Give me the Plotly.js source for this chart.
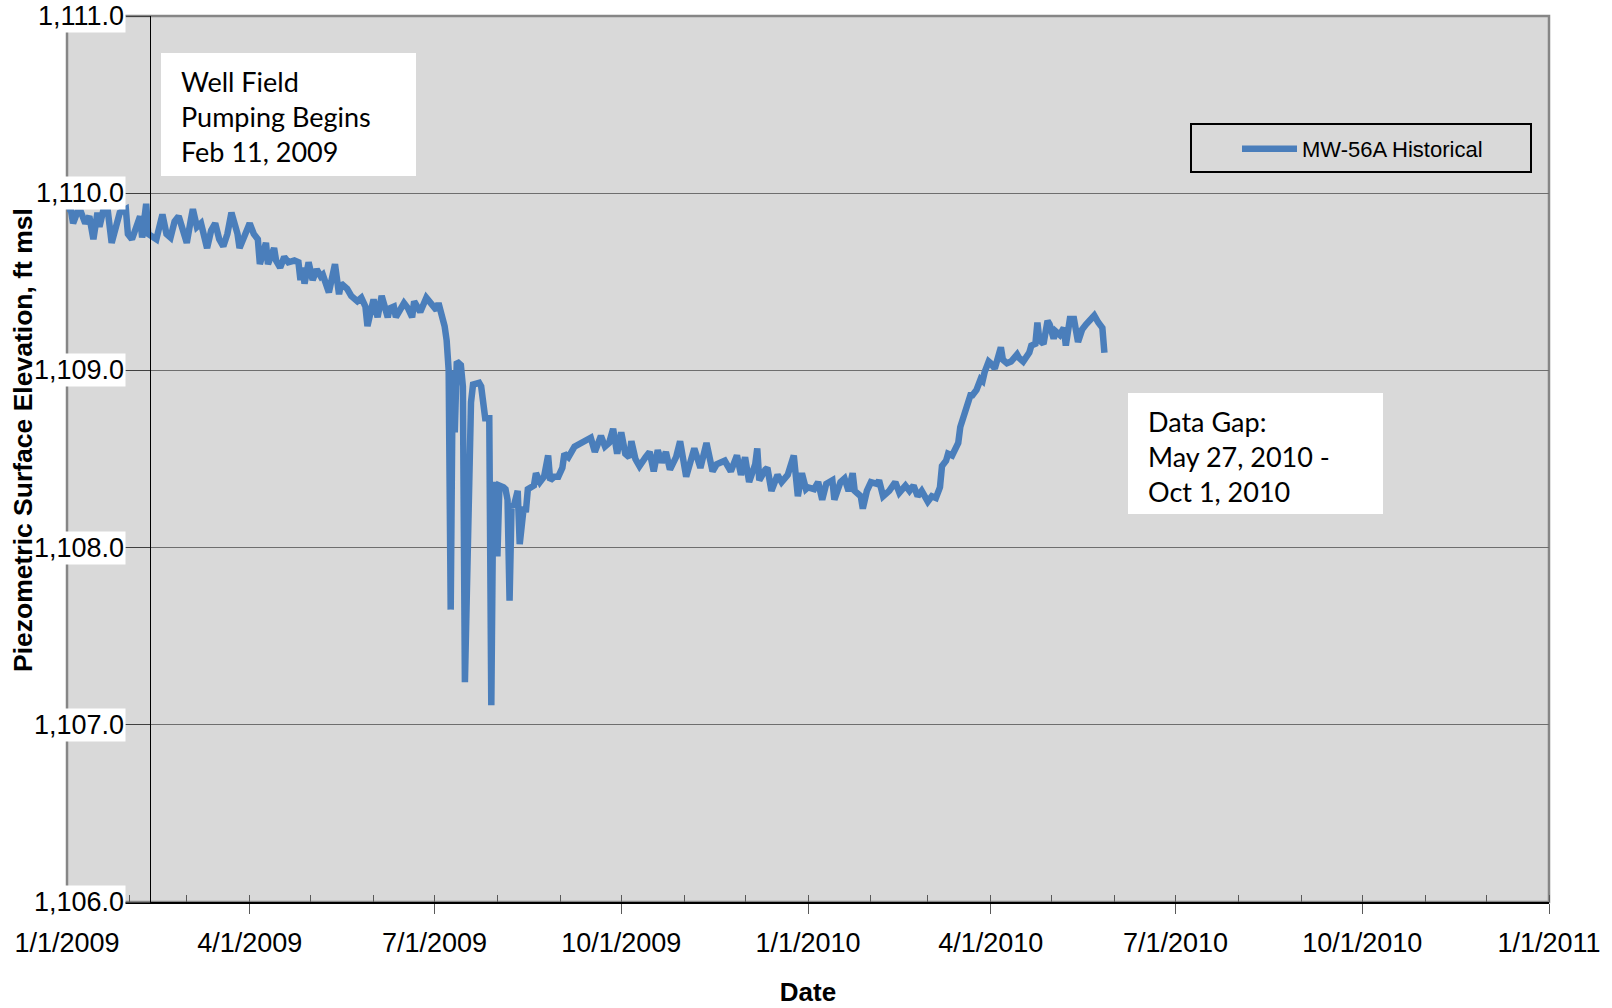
<!DOCTYPE html>
<html>
<head>
<meta charset="utf-8">
<script src="https://cdn.plot.ly/plotly-3.0.1.min.js"></script>
<style>
html,body{margin:0;padding:0;background:#ffffff;}
#chart{width:1612px;height:1008px;}
</style>
</head>
<body>
<div id="chart"></div>
<script>
// ---------------- DATA ----------------
const seriesName = 'MW-56A Historical';

// Jan - early Jul 2009 (before the summer drawdown)
const datesEarly = ['2009-01-01','2009-01-03','2009-01-04','2009-01-06','2009-01-08','2009-01-10','2009-01-12','2009-01-14','2009-01-16','2009-01-17','2009-01-19','2009-01-21','2009-01-23','2009-01-26','2009-01-27','2009-01-30','2009-01-31','2009-02-02','2009-02-04','2009-02-06','2009-02-07','2009-02-09','2009-02-10','2009-02-12','2009-02-14','2009-02-17','2009-02-19','2009-02-21','2009-02-23','2009-02-25','2009-02-27','2009-03-01','2009-03-03','2009-03-04','2009-03-06','2009-03-08','2009-03-11','2009-03-13','2009-03-15','2009-03-17','2009-03-19','2009-03-21','2009-03-23','2009-03-26','2009-03-27','2009-03-30','2009-04-01','2009-04-03','2009-04-05','2009-04-06','2009-04-09','2009-04-10','2009-04-13','2009-04-14','2009-04-16','2009-04-18','2009-04-20','2009-04-23','2009-04-25','2009-04-26','2009-04-27','2009-04-28','2009-04-30','2009-05-02','2009-05-04','2009-05-06','2009-05-07','2009-05-10','2009-05-11','2009-05-13','2009-05-15','2009-05-16','2009-05-19','2009-05-21','2009-05-24','2009-05-26','2009-05-28','2009-05-29','2009-06-01','2009-06-03','2009-06-05','2009-06-08','2009-06-09','2009-06-11','2009-06-12','2009-06-16','2009-06-18','2009-06-20','2009-06-21','2009-06-24','2009-06-27','2009-06-30','2009-07-02','2009-07-03','2009-07-05','2009-07-06','2009-07-07'];
const levelsEarly = [1109.92,1109.90,1109.83,1109.89,1109.89,1109.83,1109.87,1109.74,1109.89,1109.81,1109.91,1109.91,1109.72,1109.83,1109.89,1109.91,1109.77,1109.74,1109.81,1109.87,1109.75,1109.94,1109.77,1109.75,1109.74,1109.88,1109.77,1109.75,1109.84,1109.87,1109.79,1109.72,1109.85,1109.91,1109.81,1109.83,1109.69,1109.79,1109.83,1109.74,1109.70,1109.77,1109.89,1109.77,1109.69,1109.79,1109.83,1109.77,1109.74,1109.60,1109.72,1109.60,1109.69,1109.62,1109.58,1109.64,1109.61,1109.62,1109.61,1109.51,1109.58,1109.49,1109.61,1109.51,1109.57,1109.53,1109.54,1109.44,1109.51,1109.60,1109.43,1109.49,1109.46,1109.42,1109.39,1109.41,1109.36,1109.25,1109.40,1109.30,1109.42,1109.30,1109.35,1109.36,1109.30,1109.38,1109.35,1109.30,1109.39,1109.33,1109.41,1109.36,1109.34,1109.38,1109.30,1109.25,1109.17];

// Jul - Dec 2009 (drawdown spikes and partial recovery)
const datesMid = ['2009-07-08','2009-07-09','2009-07-10','2009-07-11','2009-07-12','2009-07-14','2009-07-15','2009-07-16','2009-07-18','2009-07-19','2009-07-20','2009-07-23','2009-07-24','2009-07-25','2009-07-26','2009-07-28','2009-07-29','2009-07-30','2009-07-31','2009-08-01','2009-08-02','2009-08-04','2009-08-05','2009-08-06','2009-08-07','2009-08-08','2009-08-09','2009-08-11','2009-08-12','2009-08-14','2009-08-15','2009-08-16','2009-08-19','2009-08-20','2009-08-22','2009-08-24','2009-08-26','2009-08-27','2009-08-29','2009-08-31','2009-09-02','2009-09-03','2009-09-05','2009-09-08','2009-09-11','2009-09-14','2009-09-16','2009-09-18','2009-09-21','2009-09-23','2009-09-25','2009-09-27','2009-09-29','2009-10-01','2009-10-03','2009-10-05','2009-10-06','2009-10-08','2009-10-10','2009-10-13','2009-10-15','2009-10-17','2009-10-19','2009-10-21','2009-10-23','2009-10-25','2009-10-28','2009-10-30','2009-11-01','2009-11-02','2009-11-06','2009-11-09','2009-11-12','2009-11-15','2009-11-17','2009-11-21','2009-11-24','2009-11-27','2009-11-29','2009-12-01','2009-12-03','2009-12-06','2009-12-07','2009-12-08','2009-12-11','2009-12-12','2009-12-14','2009-12-17','2009-12-19','2009-12-22','2009-12-25','2009-12-27','2009-12-29','2009-12-31'];
const levelsMid = [1109.00,1107.65,1109.00,1108.65,1109.05,1109.03,1108.91,1107.24,1108.63,1108.82,1108.92,1108.93,1108.91,1108.78,1108.73,1108.73,1107.11,1108.37,1108.31,1107.95,1108.35,1108.34,1108.33,1108.27,1107.70,1108.25,1108.23,1108.32,1108.02,1108.23,1108.20,1108.33,1108.35,1108.42,1108.37,1108.40,1108.52,1108.38,1108.40,1108.40,1108.45,1108.53,1108.51,1108.57,1108.59,1108.60,1108.62,1108.54,1108.63,1108.57,1108.59,1108.67,1108.53,1108.65,1108.53,1108.51,1108.60,1108.50,1108.46,1108.51,1108.54,1108.43,1108.55,1108.48,1108.54,1108.44,1108.51,1108.60,1108.43,1108.40,1108.56,1108.45,1108.59,1108.43,1108.47,1108.49,1108.43,1108.52,1108.41,1108.51,1108.37,1108.47,1108.56,1108.38,1108.44,1108.45,1108.32,1108.41,1108.37,1108.41,1108.52,1108.29,1108.42,1108.33];

// Jan - May 27, 2010 (then a data gap)
const datesLate = ['2010-01-01','2010-01-04','2010-01-06','2010-01-08','2010-01-10','2010-01-13','2010-01-14','2010-01-17','2010-01-19','2010-01-21','2010-01-23','2010-01-24','2010-01-27','2010-01-28','2010-01-30','2010-02-01','2010-02-04','2010-02-05','2010-02-07','2010-02-10','2010-02-13','2010-02-15','2010-02-18','2010-02-20','2010-02-22','2010-02-24','2010-02-26','2010-03-01','2010-03-03','2010-03-05','2010-03-07','2010-03-08','2010-03-10','2010-03-11','2010-03-13','2010-03-14','2010-03-16','2010-03-17','2010-03-18','2010-03-19','2010-03-21','2010-03-22','2010-03-23','2010-03-25','2010-03-27','2010-03-28','2010-03-29','2010-03-31','2010-04-01','2010-04-03','2010-04-06','2010-04-07','2010-04-09','2010-04-11','2010-04-14','2010-04-15','2010-04-17','2010-04-20','2010-04-21','2010-04-23','2010-04-24','2010-04-25','2010-04-27','2010-04-29','2010-04-30','2010-05-02','2010-05-03','2010-05-05','2010-05-07','2010-05-08','2010-05-10','2010-05-12','2010-05-14','2010-05-16','2010-05-18','2010-05-21','2010-05-22','2010-05-24','2010-05-26','2010-05-27'];
const levelsLate = [1108.34,1108.33,1108.37,1108.27,1108.36,1108.38,1108.27,1108.37,1108.39,1108.32,1108.42,1108.32,1108.29,1108.22,1108.32,1108.37,1108.36,1108.38,1108.29,1108.32,1108.37,1108.31,1108.35,1108.32,1108.35,1108.29,1108.32,1108.26,1108.29,1108.28,1108.34,1108.46,1108.49,1108.53,1108.52,1108.54,1108.59,1108.68,1108.72,1108.74,1108.83,1108.86,1108.86,1108.89,1108.95,1108.94,1108.99,1109.05,1109.04,1109.01,1109.13,1109.06,1109.04,1109.05,1109.09,1109.07,1109.05,1109.10,1109.14,1109.15,1109.27,1109.17,1109.15,1109.28,1109.26,1109.18,1109.22,1109.20,1109.24,1109.14,1109.29,1109.29,1109.16,1109.23,1109.26,1109.30,1109.31,1109.27,1109.24,1109.10];

// Axes
const xStart = '2009-01-01';
const xEnd = '2011-01-01';
const xTickVals = ['2009-01-01','2009-04-01','2009-07-01','2009-10-01','2010-01-01','2010-04-01','2010-07-01','2010-10-01','2011-01-01'];
const xTickText = ['1/1/2009','4/1/2009','7/1/2009','10/1/2009','1/1/2010','4/1/2010','7/1/2010','10/1/2010','1/1/2011'];
const yTickVals = [1106, 1107, 1108, 1109, 1110, 1111];
const yTickText = ['1,106.0','1,107.0','1,108.0','1,109.0','1,110.0','1,111.0'];
const xTitle = 'Date';
const yTitle = 'Piezometric Surface Elevation, ft msl';
const pumpStart = '2009-02-11';
const noteStart = 'Well Field<br>Pumping Begins<br>Feb 11, 2009';
const noteGap = 'Data Gap:<br>May 27, 2010 -<br>Oct 1, 2010';

// ---------------- LAYOUT HELPERS ----------------
const W = 1612, H = 1008;
const M = {l: 67, r: 63, t: 16, b: 106};
const PW = W - M.l - M.r, PH = H - M.t - M.b;
const fx = px => (px - M.l) / PW;
const fy = py => (H - M.b - py) / PH;

const dates = datesEarly.concat(datesMid, datesLate);
const levels = levelsEarly.concat(levelsMid, levelsLate);

// y axis crosses the date axis at the pumping start date
const yAxisPos = (Date.parse(pumpStart) - Date.parse(xStart)) / (Date.parse(xEnd) - Date.parse(xStart));

const AX = 'Liberation Sans, Arial, sans-serif';
const NOTE = 'Lato, Carlito, Calibri, sans-serif';

const trace = {
  x: dates, y: levels, type: 'scatter', mode: 'lines', name: seriesName,
  line: {color: '#4a7ebb', width: 6.5},
  showlegend: true
};

const annotations = yTickVals.map((v, i) => ({
  xref: 'paper', yref: 'y', x: yAxisPos, y: v, xanchor: 'right', yanchor: 'middle',
  xshift: -24, text: yTickText[i], showarrow: false, bgcolor: '#ffffff', borderpad: 1,
  font: {family: AX, size: 27, color: '#000000'}
}));

annotations.push({
  xref: 'paper', yref: 'paper', x: fx(23), y: fy(440), xanchor: 'center', yanchor: 'middle',
  text: yTitle, textangle: -90, showarrow: false,
  font: {family: AX, size: 26.5, color: '#000000', weight: 'bold'}
});
annotations.push({
  xref: 'paper', yref: 'paper', x: fx(179), y: fy(117), xanchor: 'left', yanchor: 'middle',
  text: noteStart, align: 'left', showarrow: false,
  font: {family: NOTE, size: 27, color: '#000000'}
});
annotations.push({
  xref: 'paper', yref: 'paper', x: fx(1146), y: fy(456), xanchor: 'left', yanchor: 'middle',
  text: noteGap, align: 'left', showarrow: false,
  font: {family: NOTE, size: 27, color: '#000000'}
});

const shapes = [
  // plot-area border
  {type: 'rect', xref: 'paper', yref: 'paper', x0: 0, x1: 1, y0: 0, y1: 1,
   line: {color: '#868686', width: 2.5}, fillcolor: 'rgba(0,0,0,0)', layer: 'below'},
  // note boxes
  {type: 'rect', xref: 'paper', yref: 'paper', x0: fx(161), x1: fx(416), y0: fy(176), y1: fy(53),
   line: {width: 0}, fillcolor: '#ffffff', layer: 'above'},
  {type: 'rect', xref: 'paper', yref: 'paper', x0: fx(1128), x1: fx(1383), y0: fy(514), y1: fy(393),
   line: {width: 0}, fillcolor: '#ffffff', layer: 'above'},
  // legend frame
  {type: 'rect', xref: 'paper', yref: 'paper', x0: fx(1191), x1: fx(1531), y0: fy(172), y1: fy(124),
   line: {color: '#000000', width: 2}, fillcolor: 'rgba(0,0,0,0)', layer: 'above'}
];

const layout = {
  width: W, height: H,
  margin: {l: M.l, r: M.r, t: M.t, b: M.b, pad: 0},
  paper_bgcolor: '#ffffff', plot_bgcolor: '#d9d9d9',
  showlegend: true,
  legend: {x: fx(1237), xanchor: 'left', y: fy(149), yanchor: 'middle',
           bgcolor: 'rgba(0,0,0,0)', borderwidth: 0, itemwidth: 55,
           font: {family: AX, size: 22, color: '#000000'}},
  xaxis: {
    type: 'date', range: [xStart, xEnd], anchor: 'y',
    tickmode: 'array', tickvals: xTickVals, ticktext: xTickText,
    ticks: 'outside', ticklen: 10, tickwidth: 1, tickcolor: '#595959',
    ticklabelstandoff: 6,
    minor: {dtick: 'M1', tick0: xStart, ticks: 'inside', ticklen: 7, tickwidth: 1, tickcolor: '#595959', showgrid: false},
    showgrid: false, zeroline: false,
    showline: true, linecolor: '#000000', linewidth: 1.5,
    tickfont: {family: AX, size: 27, color: '#000000'},
    title: {text: xTitle, standoff: 26, font: {family: AX, size: 26, color: '#000000', weight: 'bold'}},
    automargin: false
  },
  yaxis: {
    range: [1106, 1111], anchor: 'free', position: yAxisPos,
    tickmode: 'array', tickvals: yTickVals, showticklabels: false,
    ticks: 'outside', ticklen: 24, tickwidth: 1, tickcolor: '#404040',
    showgrid: true, gridcolor: '#6e6e6e', gridwidth: 1, zeroline: false,
    showline: true, linecolor: '#000000', linewidth: 1,
    automargin: false
  },
  annotations: annotations,
  shapes: shapes
};

Plotly.newPlot('chart', [trace], layout, {displayModeBar: false, staticPlot: true});
</script>
</body>
</html>
